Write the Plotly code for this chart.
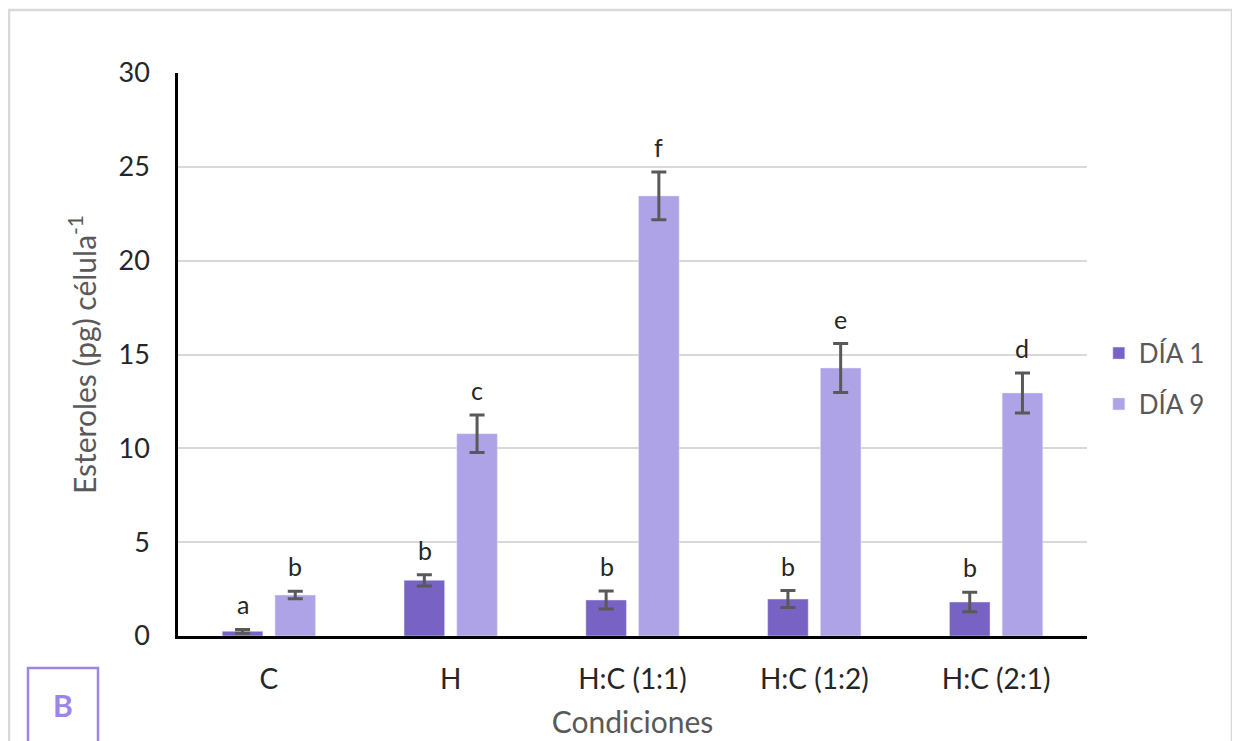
import plotly.graph_objects as go

categories = ["C", "H", "H:C (1:1)", "H:C (1:2)", "H:C (2:1)"]
dia1 = [0.25, 2.97, 1.92, 1.97, 1.81]
dia1_err = [0.1, 0.3, 0.48, 0.45, 0.52]
dia9 = [2.18, 10.78, 23.45, 14.28, 12.95]
dia9_err = [0.2, 1.0, 1.27, 1.3, 1.07]
letters1 = ["a", "b", "b", "b", "b"]
letters9 = ["b", "c", "f", "e", "d"]

C1 = "#7862C4"
C9 = "#AEA3E6"
GRAY = "#595959"
FONT = "Lato, Open Sans, sans-serif"

# plot area in screen pixels (page has an 8px body margin)
PX0, PX1, PY0, PY1 = 178, 1087, 73, 636
PW, PH = PX1 - PX0, PY1 - PY0


def px(x):
    return (x - PX0) / PW


def py(y):
    return (PY1 - y) / PH


fig = go.Figure()
fig.add_trace(go.Bar(
    x=categories, y=dia1, name="DÍA 1", marker_color=C1, legendgroup="1",
    error_y=dict(type="data", array=dia1_err, color=GRAY, thickness=3, width=7.5),
    offsetgroup="1",
))
fig.add_trace(go.Bar(
    x=categories, y=dia9, name="DÍA 9", marker_color=C9, legendgroup="9",
    error_y=dict(type="data", array=dia9_err, color=GRAY, thickness=3, width=7.5),
    offsetgroup="2",
))

for i, cat in enumerate(categories):
    fig.add_annotation(x=cat, y=dia1[i] + dia1_err[i], text=letters1[i], xref="x", yref="y",
                       showarrow=False, yanchor="bottom", yshift=8, xshift=-26,
                       font=dict(family=FONT, size=25, color="#262626"))
    fig.add_annotation(x=cat, y=dia9[i] + dia9_err[i], text=letters9[i], xref="x", yref="y",
                       showarrow=False, yanchor="bottom", yshift=8, xshift=26,
                       font=dict(family=FONT, size=25, color="#262626"))

# "B" box
fig.add_shape(type="rect", xref="paper", yref="paper",
              x0=px(28), x1=px(98), y0=py(770), y1=py(668),
              line=dict(color="#9B85E8", width=2.5), fillcolor="white", layer="above")
fig.add_annotation(xref="paper", yref="paper", x=px(63), y=py(705),
                   text="<b>B</b>", showarrow=False, xanchor="center", yanchor="middle",
                   font=dict(family=FONT, size=30, color="#9B85E8"))

# outer border
fig.add_shape(type="rect", xref="paper", yref="paper",
              x0=px(9), x1=px(1232), y0=py(790), y1=py(10),
              line=dict(color="#D9D9D9", width=2.5), layer="below")

fig.update_layout(
    width=1240, height=741,
    margin=dict(l=PX0 - 8, r=1240 - (PX0 - 8) - PW, t=PY0 - 8, b=741 - (PY0 - 8) - PH),
    paper_bgcolor="white", plot_bgcolor="white",
    barmode="group", bargap=0.42, bargroupgap=0.23,
    font=dict(family=FONT, color=GRAY),
    legend=dict(x=1.013, y=0.457, xanchor="left", yanchor="middle",
                font=dict(family=FONT, size=26, color=GRAY),
                tracegroupgap=14, itemwidth=30, bgcolor="rgba(0,0,0,0)"),
    showlegend=True,
)
fig.update_yaxes(range=[0, 30], dtick=5, showgrid=True, gridcolor="#D9D9D9", gridwidth=2,
                 showline=True, linecolor="black", linewidth=2.5, zeroline=False,
                 ticks="", ticklabelstandoff=20,
                 tickfont=dict(family=FONT, size=27, color="#262626"),
                 title=dict(text="Esteroles (pg) célula<sup>-1</sup>", standoff=14,
                            font=dict(family=FONT, size=30, color=GRAY)))
fig.update_xaxes(showline=True, linecolor="black", linewidth=2.5, ticks="",
                 ticklabelstandoff=17,
                 tickfont=dict(family=FONT, size=28, color="#262626"),
                 title=dict(text="Condiciones", standoff=18,
                            font=dict(family=FONT, size=30, color=GRAY)))

fig.write_html("out.html")
